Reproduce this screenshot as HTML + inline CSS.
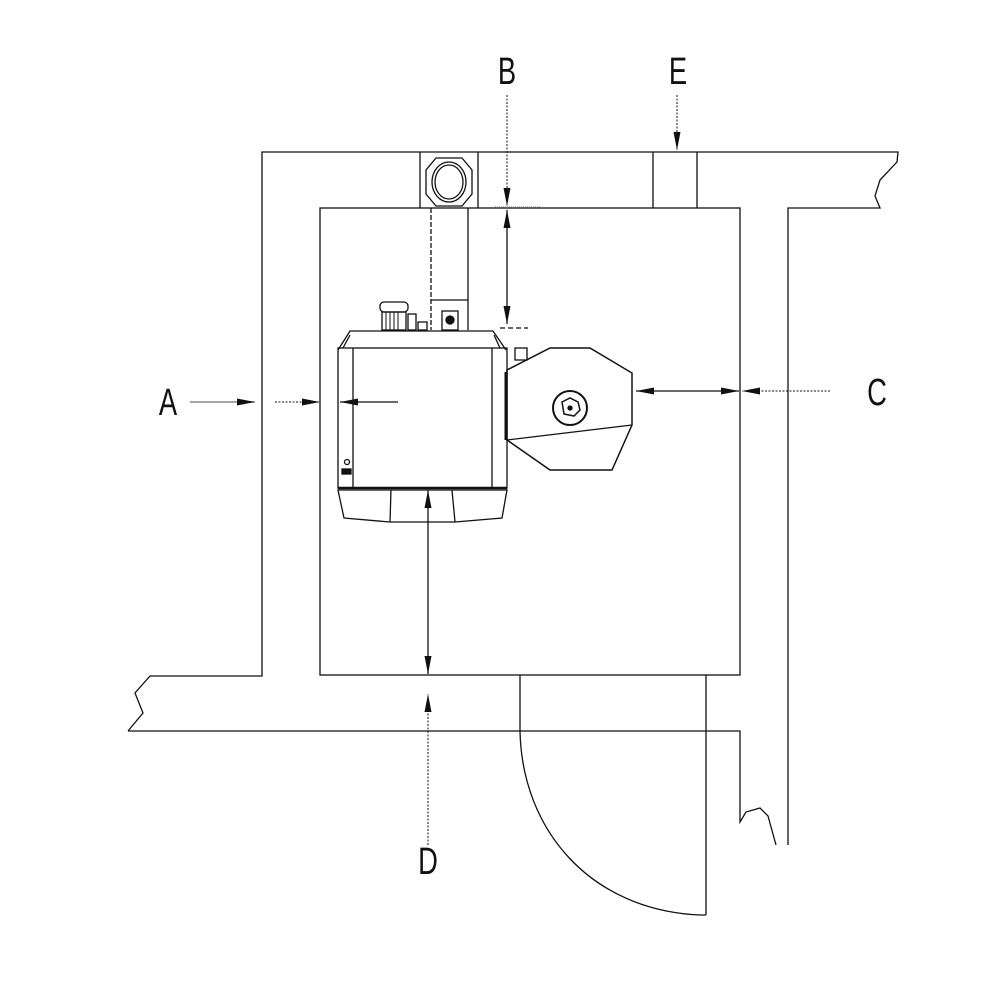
<!DOCTYPE html>
<html><head><style>html,body{margin:0;padding:0;background:#fff}svg{display:block}</style></head><body>
<svg width="1000" height="1000" viewBox="0 0 1000 1000" xmlns="http://www.w3.org/2000/svg" fill="none" stroke="#111" stroke-width="1.3">
<defs>
<marker id="ah" viewBox="0 0 18 7" refX="18" refY="3.5" markerWidth="18" markerHeight="7" orient="auto-start-reverse" markerUnits="userSpaceOnUse"><path d="M0,0 L18,3.5 L0,7 z" fill="#111" stroke="none"/></marker>
</defs>
<path d="M128,731 L143,713 L135,693 L150,676 L262,676 L262,152 L898,152 L897,162 L880,180 L875,196 L880,208 L788,208 L788,845"/>
<path d="M128,731 L740,731 L740,822 L746,812 L760,808 L768,816 L776,845"/>
<rect x="320" y="208" width="420" height="467"/>
<line x1="420" y1="152" x2="420" y2="208"/><line x1="478" y1="152" x2="478" y2="208"/>
<polygon points="436,158 462,158 472,170 472,194 462,206 436,206 426,194 426,170"/>
<ellipse cx="449" cy="182" rx="17" ry="20"/><ellipse cx="449" cy="182" rx="14" ry="17"/>
<line x1="653" y1="152" x2="653" y2="208"/><line x1="697" y1="152" x2="697" y2="208"/>
<line x1="520" y1="675" x2="520" y2="731"/>
<line x1="706" y1="675" x2="706" y2="915"/>
<path d="M520,731 C522,830 590,910 700,915 L706,915"/>
<line x1="431" y1="208" x2="431" y2="330" stroke-dasharray="5,2"/><line x1="468" y1="208" x2="468" y2="330"/>
<line x1="431" y1="300" x2="468" y2="300"/>
<rect x="442" y="311" width="16" height="19"/><circle cx="450" cy="320" r="4" fill="#111"/>
<rect x="380" y="302" width="28" height="10" rx="4"/>
<rect x="382" y="312" width="24" height="18"/>
<path d="M386,312 V330 M390,312 V330 M394,312 V330 M398,312 V330" stroke-width="1"/>
<rect x="408" y="314" width="8" height="16"/><rect x="418" y="322" width="9" height="8"/>
<path d="M338,350 L350,331 L493,331 L506,350"/>
<path d="M343,348 L350,335 M500,348 L494,335"/>
<rect x="338" y="348" width="169" height="140"/>
<line x1="353" y1="348" x2="353" y2="488"/><line x1="492" y1="348" x2="492" y2="488"/>
<circle cx="347" cy="462" r="2.5"/><rect x="342" y="469" width="9" height="5" fill="#111"/>
<path d="M338,490 L507,490 L502,518 L455,522 L390,522 L344,518 Z"/>
<line x1="338" y1="488" x2="507" y2="488" stroke-width="2.5"/>
<line x1="391" y1="490" x2="390" y2="522"/><line x1="452" y1="490" x2="455" y2="522"/>
<rect x="515" y="348" width="12" height="12"/>
<polygon points="507,370 550,348 590,348 632,373 632,425 612,470 550,470 507,440" stroke-width="1.5"/>
<line x1="507" y1="440" x2="632" y2="425"/>
<line x1="506" y1="372" x2="506" y2="440" stroke-width="3"/>
<circle cx="570" cy="408" r="17" stroke-width="2"/>
<path d="M562,402 L570,398 L578,402 L580,410 L574,416 L564,414 Z" stroke-width="1.5"/>
<circle cx="570" cy="408" r="2" fill="#111"/>
<line x1="507" y1="95" x2="507" y2="206" stroke-dasharray="2,1.5" stroke-width="1" marker-end="url(#ah)"/>
<line x1="507" y1="210" x2="507" y2="324" marker-start="url(#ah)" marker-end="url(#ah)"/>
<line x1="500" y1="328" x2="528" y2="328" stroke-dasharray="5,3"/>
<line x1="495" y1="207" x2="540" y2="207" stroke-dasharray="1,1" stroke="#888"/>
<line x1="677" y1="95" x2="677" y2="150" stroke-dasharray="2,1.5" stroke-width="1" marker-end="url(#ah)"/>
<line x1="190" y1="402" x2="255" y2="402" stroke="#888" stroke-width="1.5" marker-end="url(#ah)"/>
<line x1="275" y1="402" x2="320" y2="402" stroke-dasharray="2,1.5" stroke-width="1" marker-end="url(#ah)"/>
<line x1="398" y1="402" x2="340" y2="402" marker-end="url(#ah)"/>
<line x1="830" y1="391" x2="742" y2="391" stroke-dasharray="2,1.5" stroke-width="1" marker-end="url(#ah)"/>
<line x1="636" y1="391" x2="739" y2="391" marker-start="url(#ah)" marker-end="url(#ah)"/>
<line x1="428" y1="490" x2="428" y2="674" marker-start="url(#ah)" marker-end="url(#ah)"/>
<line x1="428" y1="845" x2="428" y2="694" stroke-dasharray="2,1.5" stroke-width="1" marker-end="url(#ah)"/>
<g fill="#111" stroke="none" font-family="Liberation Sans, sans-serif" font-size="38" text-anchor="middle">
<text transform="translate(168,415) scale(0.72,1)">A</text>
<text transform="translate(507,84) scale(0.72,1)">B</text>
<text transform="translate(877,405) scale(0.72,1)">C</text>
<text transform="translate(428,874) scale(0.72,1)">D</text>
<text transform="translate(678,84) scale(0.72,1)">E</text>
</g>
</svg>
</body></html>
